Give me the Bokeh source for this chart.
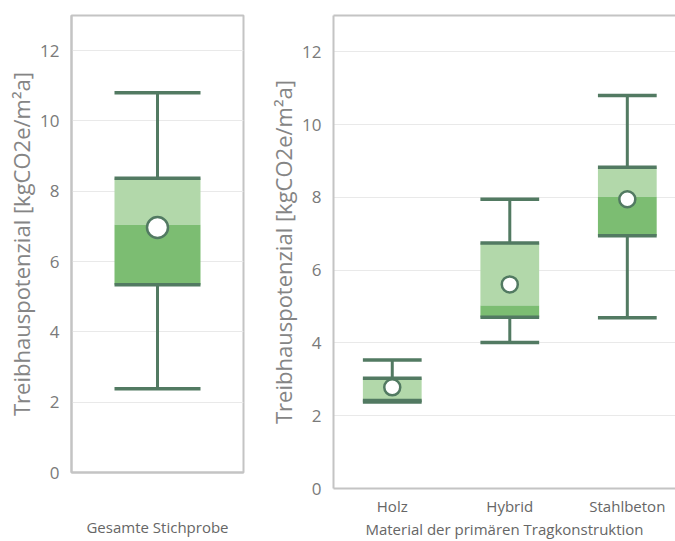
from bokeh.plotting import figure
from bokeh.layouts import row
from bokeh.models import ColumnDataSource, FixedTicker, LinearAxis, Range1d
from bokeh.transform import dodge
from bokeh.embed import file_html
from bokeh.resources import INLINE

# ---- data ----
total_label = ["Gesamte Stichprobe"]
total_lower = [2.38]
total_q1 = [5.34]
total_median = [7.05]
total_q3 = [8.37]
total_upper = [10.8]
total_mean = [6.97]

materials = ["Holz", "Hybrid", "Stahlbeton"]
mat_lower = [2.38, 4.01, 4.69]
mat_q1 = [2.42, 4.71, 6.95]
mat_median = [2.42, 5.03, 8.02]
mat_q3 = [3.03, 6.75, 8.83]
mat_upper = [3.53, 7.95, 10.8]
mat_mean = [2.78, 5.61, 7.95]

y_ticks = [0, 2, 4, 6, 8, 10, 12]
y_title = "Treibhauspotenzial [kgCO2e/m²a]"
x_title_right = "Material der primären Tragkonstruktion"

LIGHT = "#b2d8aa"
DARK = "#7cbd72"
LINE = "#527a62"
BORDER = "#c4c4c4"
GRID = "#e9e9e9"
FONT = "Open Sans"


def draw_boxes(p, src, circle_size):
    p.vbar(x="x", width=0.5, bottom="median", top="q3", source=src,
           fill_color=LIGHT, line_color=None)
    p.vbar(x="x", width=0.5, bottom="q1", top="median", source=src,
           fill_color=DARK, line_color=None)
    p.segment(x0="x", y0="q3", x1="x", y1="upper", source=src,
              line_color=LINE, line_width=3)
    p.segment(x0="x", y0="lower", x1="x", y1="q1", source=src,
              line_color=LINE, line_width=3)
    for col in ["upper", "lower", "q1", "q3"]:
        p.segment(x0=dodge("x", -0.25), y0=col, x1=dodge("x", 0.25), y1=col,
                  source=src, line_color=LINE, line_width=3.5)
    p.scatter(x="x", y="mean", source=src, size=circle_size, fill_color="white",
              line_color=LINE, line_width=2.5)


def style_y(p):
    p.yaxis.ticker = FixedTicker(ticks=y_ticks)
    p.yaxis.axis_label = y_title
    p.yaxis.axis_label_text_font = FONT
    p.yaxis.axis_label_text_font_style = "normal"
    p.yaxis.axis_label_text_font_size = "22px"
    p.yaxis.axis_label_text_color = "#858585"
    p.yaxis.axis_label_standoff = 1
    p.yaxis.major_label_text_font = FONT
    p.yaxis.major_label_text_font_size = "17px"
    p.yaxis.major_label_text_color = "#7a7a7a"
    p.yaxis.major_label_standoff = 12
    p.yaxis.major_tick_out = 0
    p.yaxis.major_tick_in = 0
    p.yaxis.minor_tick_line_color = None
    p.yaxis.axis_line_color = BORDER
    p.yaxis.axis_line_width = 2
    p.ygrid.ticker = FixedTicker(ticks=y_ticks[1:])
    p.ygrid.grid_line_color = GRID
    p.ygrid.grid_line_width = 1
    p.xgrid.grid_line_color = None


# ---- left panel ----
src1 = ColumnDataSource(dict(x=list(range(len(total_label))), lower=total_lower, q1=total_q1,
                             median=total_median, q3=total_q3, upper=total_upper,
                             mean=total_mean))
p1 = figure(frame_width=172, frame_height=457, min_border_left=71, min_border_right=12,
            min_border_top=15, min_border_bottom=68,
            x_range=Range1d(-0.5, 0.5), y_range=Range1d(0, 13),
            output_backend="svg", toolbar_location=None)
style_y(p1)
p1.outline_line_color = BORDER
p1.outline_line_width = 2
p1.outline_line_alpha = 1
p1.xaxis.ticker = FixedTicker(ticks=[])
p1.xaxis.axis_label = total_label[0]
p1.xaxis.axis_label_text_font = FONT
p1.xaxis.axis_label_text_font_style = "normal"
p1.xaxis.axis_label_text_font_size = "15px"
p1.xaxis.axis_label_text_color = "#666666"
p1.xaxis.axis_label_standoff = 44
p1.xaxis.major_tick_out = 0
p1.xaxis.major_tick_in = 0
p1.xaxis.major_label_standoff = 0
p1.xaxis.axis_line_color = BORDER
p1.xaxis.axis_line_width = 2
draw_boxes(p1, src1, 21)

# ---- right panel ----
src2 = ColumnDataSource(dict(x=list(range(len(materials))), lower=mat_lower, q1=mat_q1,
                             median=mat_median, q3=mat_q3, upper=mat_upper, mean=mat_mean))
p2 = figure(frame_width=342, frame_height=473, min_border_left=78, min_border_right=0,
            min_border_top=13, min_border_bottom=52,
            x_range=Range1d(-0.5, 2.41), y_range=Range1d(0, 13),
            output_backend="svg", toolbar_location=None)
style_y(p2)
p2.outline_line_color = None
p2.xaxis.ticker = FixedTicker(ticks=list(range(len(materials))))
p2.xaxis.major_label_overrides = {i: m for i, m in enumerate(materials)}
p2.xaxis.major_label_text_font = FONT
p2.xaxis.major_label_text_font_size = "15px"
p2.xaxis.major_label_text_color = "#666666"
p2.xaxis.major_label_standoff = 7
p2.xaxis.major_tick_out = 0
p2.xaxis.major_tick_in = 0
p2.xaxis.minor_tick_line_color = None
p2.xaxis.axis_label = x_title_right
p2.xaxis.axis_label_text_font = FONT
p2.xaxis.axis_label_text_font_style = "normal"
p2.xaxis.axis_label_text_font_size = "15px"
p2.xaxis.axis_label_text_color = "#666666"
p2.xaxis.axis_label_standoff = 0
p2.xaxis.axis_line_color = BORDER
p2.xaxis.axis_line_width = 2
top_axis = LinearAxis(ticker=FixedTicker(ticks=[]), major_tick_out=0, major_tick_in=0,
                      major_label_standoff=0, axis_line_color=BORDER, axis_line_width=2)
p2.add_layout(top_axis, "above")
draw_boxes(p2, src2, 16)

layout = row(p1, p2)
open("out.html", "w").write(file_html(layout, INLINE))
